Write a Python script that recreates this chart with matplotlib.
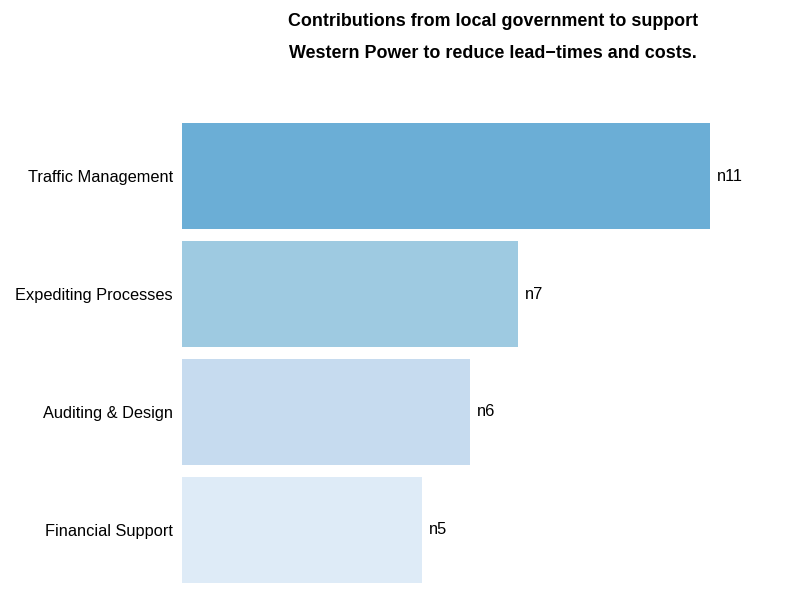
import matplotlib.pyplot as plt

categories = ['Traffic Management', 'Expediting Processes', 'Auditing & Design', 'Financial Support']
counts = [11, 7, 6, 5]
colors = ['#6baed6', '#9ecae1', '#c6dbef', '#deebf7']

plt.rcParams['font.family'] = ['Liberation Sans', 'DejaVu Sans']

fig = plt.figure(figsize=(7.92, 5.95), dpi=100)
ax = fig.add_axes([182 / 792, 1 - 589 / 595, 576 / 792, 472 / 595])

ypos = list(range(len(categories)))
bars = ax.barh(ypos, counts, height=0.9, color=colors)
ax.set_xlim(0, 12)
ax.set_ylim(len(categories) - 0.5, -0.5)
ax.set_yticks(ypos)
ax.set_yticklabels(categories, fontsize=11.8)
ax.tick_params(axis='y', length=0, pad=6.5)
ax.set_xticks([])
for s in ax.spines.values():
    s.set_visible(False)

ax.bar_label(bars, labels=['n%d' % c for c in counts], padding=5, fontsize=11.8)

fig.text(493 / 792, 1 - 21 / 595, 'Contributions from local government to support',
         ha='center', va='center', fontsize=12.9, fontweight='bold')
fig.text(493 / 792, 1 - 54 / 595, 'Western Power to reduce lead\u2212times and costs.',
         ha='center', va='center', fontsize=12.9, fontweight='bold')

fig.savefig('out.png', dpi=100)
